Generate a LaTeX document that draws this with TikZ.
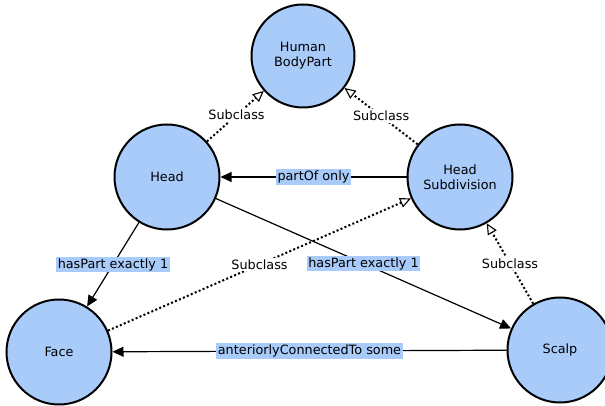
\documentclass[tikz,border=0pt]{standalone}
\usepackage{fontspec}
\setmainfont{DejaVu Sans}
\usetikzlibrary{arrows.meta}
\definecolor{classblue}{RGB}{169,203,250}
\begin{document}
\begin{tikzpicture}[x=1pt,y=-1pt,
  font=\fontsize{12.8}{15}\selectfont,
  cls/.style={circle,draw=black,line width=2pt,fill=classblue,
    minimum size=#1,inner sep=0pt,align=center},
  cls/.default=105pt,
  subcls/.style={line width=2pt,dash pattern=on 2pt off 2.3pt,
    -{Triangle[open,length=11pt,width=10pt,line width=1.1pt]}},
  rel/.style={line width=1.2pt,-{Triangle[length=11pt,width=10pt]}},
  rellabel/.style={fill=classblue,inner sep=1.5pt,text=black},
  sublabel/.style={fill=white,inner sep=2pt,text=black}]
  \useasboundingbox (0,0) rectangle (605,406);

  % classes
  \node[cls=103pt] (hbp)  at (303,56)  {Human\\BodyPart};
  \node[cls]       (head) at (167,177) {Head};
  \node[cls]       (hsub) at (460,177) {Head\\Subdivision};
  \node[cls]       (face) at (59,352)  {Face};
  \node[cls]       (scalp) at (560,350) {Scalp};

  % subclass axioms
  \draw[subcls] (head) -- node[sublabel,pos=0.52] {Subclass} (hbp);
  \draw[subcls] (hsub) -- node[sublabel,pos=0.5] {Subclass} (hbp);
  \draw[subcls] (face) -- node[sublabel,pos=0.5] {Subclass} (hsub);
  \draw[subcls] (scalp) -- node[sublabel,pos=0.5] {Subclass} (hsub);

  % object property restrictions
  \draw[rel] (hsub) -- node[rellabel,pos=0.5] {partOf only} (head);
  \draw[rel] (head) -- node[rellabel,pos=0.5] {hasPart exactly 1} (face);
  \draw[rel] (head) -- node[rellabel,pos=0.5] {hasPart exactly 1} (scalp);
  \draw[rel] (scalp) -- node[rellabel,pos=0.5] {anteriorlyConnectedTo some} (face);
\end{tikzpicture}
\end{document}
